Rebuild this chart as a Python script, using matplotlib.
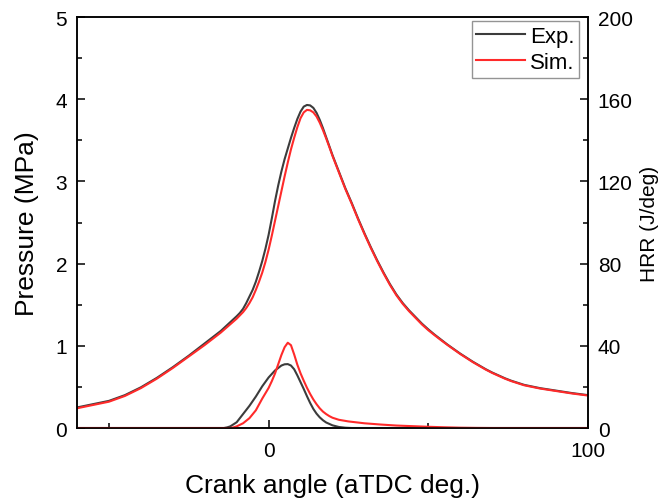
import matplotlib
matplotlib.use("Agg")
import matplotlib.pyplot as plt
from matplotlib.ticker import MultipleLocator

plt.rcParams['font.family'] = ['Liberation Sans', 'DejaVu Sans']

# Cylinder pressure (MPa) vs crank angle (deg aTDC)
p_angle = [-60, -55, -50, -45, -40, -35, -30, -25, -20, -15,
           -10, -9, -8, -7, -6, -5, -4, -3, -2, -1,
           0, 1, 2, 3, 4, 5, 6, 7, 8, 9,
           10, 11, 12, 13, 14, 15, 16, 17, 18, 19,
           20, 21, 22, 23, 24, 25, 26, 27, 28, 29,
           30, 31, 32, 34, 36, 38, 40, 42, 44, 46,
           48, 50, 52, 54, 56, 58, 60, 62, 64, 66,
           68, 70, 72, 74, 76, 78, 80, 85, 90, 95,
           100]
p_exp = [0.25, 0.29, 0.33, 0.40, 0.495, 0.61, 0.74, 0.88, 1.03, 1.18,
         1.36, 1.40, 1.45, 1.52, 1.60, 1.68, 1.78, 1.90, 2.03, 2.18,
         2.35, 2.55, 2.76, 2.95, 3.12, 3.27, 3.40, 3.53, 3.65, 3.76,
         3.85, 3.91, 3.93, 3.925, 3.895, 3.835, 3.75, 3.65, 3.54, 3.43,
         3.32, 3.22, 3.12, 3.02, 2.92, 2.83, 2.74, 2.645, 2.55, 2.46,
         2.37, 2.285, 2.20, 2.04, 1.89, 1.75, 1.625, 1.52, 1.43, 1.35,
         1.27, 1.20, 1.135, 1.075, 1.015, 0.96, 0.905, 0.855, 0.805, 0.76,
         0.715, 0.675, 0.64, 0.605, 0.575, 0.55, 0.525, 0.485, 0.455, 0.425,
         0.40]
p_sim = [0.24, 0.28, 0.32, 0.39, 0.485, 0.60, 0.73, 0.87, 1.01, 1.16,
         1.33, 1.37, 1.41, 1.46, 1.52, 1.59, 1.68, 1.78, 1.89, 2.02,
         2.17, 2.34, 2.52, 2.70, 2.88, 3.06, 3.23, 3.39, 3.53, 3.66,
         3.77, 3.84, 3.87, 3.865, 3.84, 3.79, 3.715, 3.625, 3.525, 3.42,
         3.31, 3.21, 3.11, 3.01, 2.91, 2.82, 2.73, 2.635, 2.54, 2.45,
         2.36, 2.275, 2.19, 2.03, 1.88, 1.74, 1.615, 1.51, 1.42, 1.34,
         1.26, 1.19, 1.128, 1.068, 1.01, 0.955, 0.90, 0.85, 0.80, 0.755,
         0.71, 0.67, 0.635, 0.60, 0.57, 0.545, 0.52, 0.48, 0.45, 0.42,
         0.395]

# Heat release rate (J/deg)
h_angle_exp = [-60, -20, -14, -13, -12, -10, -8, -6, -4, -2, 0, 2, 4, 5, 6, 7, 8, 9, 10,
               11, 12, 13, 14, 15, 16, 17, 18, 20, 22, 24, 26, 40, 100]
hrr_exp = [0, 0, 0, 0.3, 0.8, 2.8, 6.8, 10.8, 15.3, 20.3, 24.6, 28.0, 30.4, 31.0, 31.1, 30.4, 28.6, 25.6, 22.3,
           19.0, 15.5, 12.2, 9.3, 7.0, 5.2, 3.8, 2.7, 1.3, 0.5, 0.15, 0, 0, 0]

h_angle_sim = [-60, -20, -12, -11, -10, -8, -6, -4, -2, 0, 1, 2, 3, 4, 5, 6, 7, 8, 9, 10,
               11, 12, 13, 14, 15, 16, 17, 18, 19, 20, 22, 25, 30, 35, 40, 45, 50, 55, 60, 65, 70, 100]
hrr_sim = [0, 0, 0, 0.3, 0.8, 2.3, 4.8, 8.6, 14.3, 19.5, 22.8, 26.5, 31.0, 35.5, 39.3, 41.5, 40.3, 35.8, 30.8, 26.6,
           23.0, 19.6, 16.6, 13.9, 11.6, 9.6, 8.0, 6.8, 5.8, 5.0, 4.0, 3.2, 2.3, 1.7, 1.2, 0.9, 0.6, 0.35, 0.15, 0.05, 0, 0]

grey = '#3c3c3c'
red = '#ff2a2a'

fig = plt.figure(figsize=(6.62, 5.02), dpi=100)
ax = fig.add_axes([0.1163, 0.1454, 0.7719, 0.8187])
ax2 = ax.twinx()

ax.plot(p_angle, p_exp, color=grey, lw=1.5)
ax.plot(p_angle, p_sim, color=red, lw=1.5)
l_exp, = ax2.plot(h_angle_exp, hrr_exp, color=grey, lw=1.5, label='Exp.')
l_sim, = ax2.plot(h_angle_sim, hrr_sim, color=red, lw=1.5, label='Sim.')

ax.set_xlim(-60, 100)
ax.set_ylim(0, 5)
ax2.set_ylim(0, 200)

ax.xaxis.set_major_locator(MultipleLocator(100))
ax.xaxis.set_minor_locator(MultipleLocator(50))
ax.yaxis.set_major_locator(MultipleLocator(1))
ax.yaxis.set_minor_locator(MultipleLocator(0.5))
ax2.yaxis.set_major_locator(MultipleLocator(40))
ax2.yaxis.set_minor_locator(MultipleLocator(20))

for a in (ax, ax2):
    for s in a.spines.values():
        s.set_linewidth(1.1)
    a.tick_params(which='major', direction='in', length=6, width=1.1, labelsize=15, pad=7)
    a.tick_params(which='minor', direction='in', length=3.5, width=1.1)
ax.tick_params(axis='x', which='major', pad=9)

ax.set_xlabel('Crank angle (aTDC deg.)', fontsize=19, labelpad=10)
ax.set_ylabel('Pressure (MPa)', fontsize=19, labelpad=12)
ax2.set_ylabel('HRR (J/deg)', fontsize=15, labelpad=5)

leg = ax2.legend(handles=[l_exp, l_sim], loc='upper right', bbox_to_anchor=(0.982, 0.99),
                 borderaxespad=0, fontsize=16, frameon=True, fancybox=False,
                 edgecolor='#7a7a7a', handlelength=2.2, handletextpad=0.22,
                 borderpad=0.2, labelspacing=0.25)
leg.get_frame().set_linewidth(1.0)

fig.savefig('out.png', dpi=100)
